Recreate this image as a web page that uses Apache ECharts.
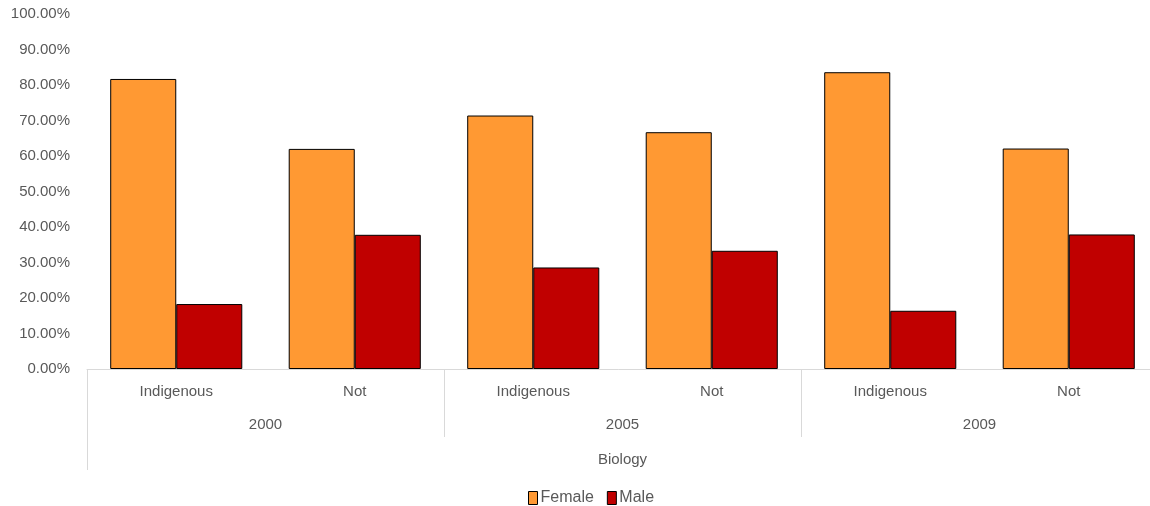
<!DOCTYPE html>
<html>
<head>
<meta charset="utf-8">
<script src="https://cdn.jsdelivr.net/npm/echarts@6/dist/echarts.min.js"></script>
<style>html,body{margin:0;padding:0;background:#fff}#c{width:1150px;height:506px}</style>
</head>
<body>
<div id="c"></div>
<script>
const categories = ['Indigenous', 'Not', 'Indigenous', 'Not', 'Indigenous', 'Not'];
const years = ['2000', '2005', '2009'];
const subject = ['Biology'];
const female = [81.7, 62.0, 71.4, 66.7, 83.6, 62.1];
const male = [18.3, 37.8, 28.6, 33.3, 16.4, 37.9];
const yTicks = { min: 0, max: 100, interval: 10 };

const txt = '#595959';
const font = 'Liberation Sans';
const chart = echarts.init(document.getElementById('c'));
chart.setOption({
  animation: false,
  textStyle: { fontFamily: font },
  grid: { left: 87, width: 1071, top: 14, bottom: 137, containLabel: false, outerBoundsMode: 'none' },
  legend: {
    top: 485, left: 523, itemWidth: 9, itemHeight: 13, itemGap: 13, icon: 'rect',
    textStyle: { color: txt, fontSize: 16, fontFamily: font, padding: [0, 0, 0, -2] },
    data: [
      { name: 'Female', itemStyle: { borderColor: '#000', borderWidth: 1 } },
      { name: 'Male', itemStyle: { borderColor: '#000', borderWidth: 1 } }
    ]
  },
  xAxis: [
    {
      type: 'category', data: categories, position: 'bottom',
      axisLine: { show: true, lineStyle: { color: '#d9d9d9', width: 1 } },
      axisTick: { show: false },
      axisLabel: { color: txt, fontSize: 15, margin: 15, interval: 0 }
    },
    {
      type: 'category', data: years, position: 'bottom',
      axisLine: { show: false },
      axisTick: { show: true, length: 68, lineStyle: { color: '#d9d9d9' } },
      axisLabel: { color: txt, fontSize: 15, margin: 48, interval: 0 }
    },
    {
      type: 'category', data: subject, position: 'bottom',
      axisLine: { show: false },
      axisTick: { show: true, length: 101, lineStyle: { color: '#d9d9d9' } },
      axisLabel: { color: txt, fontSize: 15, margin: 83, interval: 0 }
    }
  ],
  yAxis: {
    type: 'value', min: yTicks.min, max: yTicks.max, interval: yTicks.interval,
    axisLine: { show: false }, axisTick: { show: false },
    splitLine: { show: false },
    axisLabel: { color: txt, fontSize: 15, margin: 17, formatter: v => v.toFixed(2) + '%' }
  },
  series: [
    { name: 'Female', type: 'bar', xAxisIndex: 0, data: female, barGap: '0%', barCategoryGap: '26%',
      itemStyle: { color: '#ff9933', borderColor: '#000', borderWidth: 1 } },
    { name: 'Male', type: 'bar', xAxisIndex: 0, data: male, barGap: '0%', barCategoryGap: '26%',
      itemStyle: { color: '#c00000', borderColor: '#000', borderWidth: 1 } }
  ]
});
</script>
</body>
</html>
